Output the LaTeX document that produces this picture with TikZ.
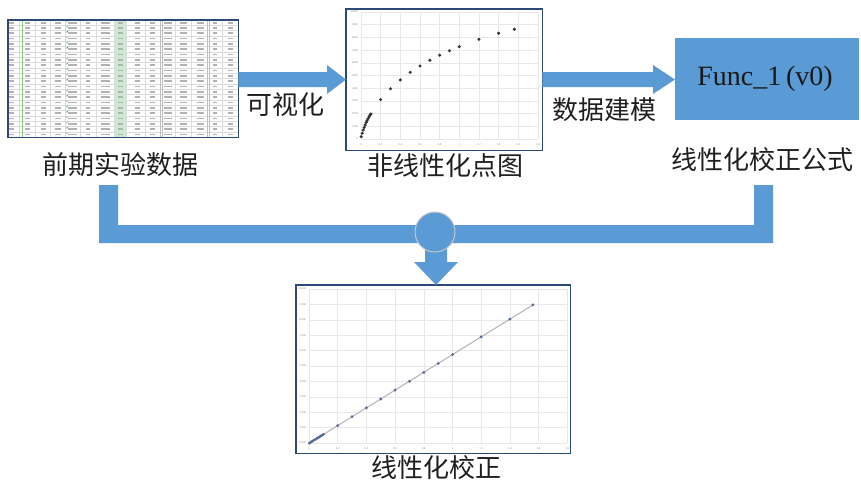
\documentclass[tikz,border=0pt]{standalone}
\usepackage{fontspec}
\setmainfont{Liberation Serif}
\newfontfamily\cjk{Noto Sans CJK SC}
\usetikzlibrary{calc}
\definecolor{fblue}{RGB}{91,155,213}
\definecolor{fborder}{RGB}{44,74,120}
\definecolor{gridc}{RGB}{232,232,232}
\definecolor{xlgreen}{RGB}{198,239,206}
\definecolor{ptblue}{RGB}{85,110,150}
\begin{document}
\begin{tikzpicture}[x=1pt,y=-1pt,
  imgframe/.style={fill=white, inner sep=0pt, anchor=north west},
  imgborder/.style={draw=fborder, line width=1.8pt},
  captxt/.style={font=\cjk\fontsize{26}{28}\selectfont, text=black!88, inner sep=0pt},
  ticktxt/.style={font=\fontsize{2.8}{3}\selectfont, text=gray, inner sep=0pt},
  fat/.style={fill=fblue},
  cell/.style={gray!60, line width=1.7pt}]
\useasboundingbox (0,0) rectangle (861,482);

% ---------- spreadsheet image ----------
\node[imgframe, minimum width=230pt, minimum height=117pt] (tab) at (8,20) {};
\fill[xlgreen] (114,20) rectangle (126,137);
\foreach \r in {1,...,21}
  \draw[gray!28, line width=0.4pt] (8,{20+\r*5.32}) -- (238,{20+\r*5.32});
\foreach \vx in {19,35,50,65,80,96,114,126,145,175,191,222}
  \draw[gray!28, line width=0.4pt] (\vx,20) -- (\vx,137);
\foreach \vx in {160,162,207,209}
  \draw[gray!50, line width=0.6pt] (\vx,20) -- (\vx,137);
\draw[green!60!black!50, line width=0.6pt] (22,20) -- (22,137);
\foreach \cx/\w in {11/5,27/5,43/5,58/6,72/9,88/4,105/9,120/5,137/5,152/5,168/8,183/7,200/7,215/4,230/5}
  \foreach \r in {0,...,21}
    \draw[cell] ({\cx-\w/2},{20+(\r+0.5)*5.32}) -- ++(\w,0);
\foreach \r in {0,...,21}
  \fill[green!60!black!70] (66.5,{20+\r*5.32+0.6}) -- ++(1.8,0) -- ++(-1.8,1.8) -- cycle;
\draw[imgborder] (tab.north west) rectangle (tab.south east);
\node[captxt] (c1) at (120,165) {前期实验数据};

% ---------- scatter plot image ----------
\node[imgframe, minimum width=196pt, minimum height=141pt] (scat) at (346,9) {};
\foreach \i/\l in {0/0,1/0.2,2/0.4,3/0.6,4/0.8,5/1,6/1.2,7/1.4,8/1.6,9/1.8}{
  \draw[gridc, line width=0.5pt] ({361+19.65*\i},12) -- ({361+19.65*\i},139);
  \node[ticktxt] at ({361+19.65*\i},144.5) {\l};
}
\foreach \j in {0,...,10}{
  \draw[gridc, line width=0.5pt] (361,{139-12.7*\j}) -- (538,{139-12.7*\j});
  \pgfmathtruncatemacro{\v}{\j*1000}
  \node[ticktxt, anchor=east] at (358,{139-12.7*\j}) {\v};
}
\foreach \a/\b in {0.002/0.18,0.012/0.45,0.022/0.7,0.032/0.9,0.042/1.1,0.052/1.3,0.062/1.45,0.072/1.6,0.082/1.75,0.092/1.88,0.1/1.97,
                   0.2/3.1,0.3/3.96,0.4/4.65,0.5/5.25,0.6/5.75,0.7/6.2,0.8/6.6,0.9/6.95,1.0/7.27,1.2/7.85,1.4/8.33,1.56/8.64}
  \fill[black!80] ({361+98.3*\a},{139-12.7*\b}) circle (1.7);
\draw[imgborder] (scat.north west) rectangle (scat.south east);
\node[captxt] (c2) at (445,166) {非线性化点图};

% ---------- formula box ----------
\node[fill=fblue, inner sep=0pt, anchor=north west, minimum width=184pt, minimum height=82pt] (func) at (675,38) {};
\node[font=\fontsize{28}{30}\selectfont, text=black!90, inner sep=0pt] (ftxt) at (765,79) {Func\_1\,(v0)};
\node[captxt] (c3) at (762,160) {线性化校正公式};

% ---------- horizontal fat arrows ----------
\fill[fat] (tab.east |- 0,72) -- (327,72) -- (327,65) -- (scat.west |- 0,79.5) -- (327,94) -- (327,87) -- (tab.east |- 0,87) -- cycle;
\node[captxt] (l1) at (285,105) {可视化};
\fill[fat] (scat.east |- 0,72) -- (653,72) -- (653,65) -- (func.west |- 0,79.5) -- (653,94) -- (653,87) -- (scat.east |- 0,87) -- cycle;
\node[captxt] (l2) at (604,110) {数据建模};

% ---------- bracket connector ----------
\fill[fat] (99,185) -- (118,185) -- (118,225) -- (754,225) -- (754,185) -- (773,185) -- (773,243) -- (99,243) -- cycle;
\coordinate (hub) at (435,232);

% ---------- linear plot image ----------
\node[imgframe, minimum width=274pt, minimum height=168pt] (lin) at (296,285) {};
\foreach \i/\l in {0/0,1/0.2,2/0.4,3/0.6,4/0.8,5/1,6/1.2,7/1.4,8/1.6,9/1.8}{
  \draw[gridc, line width=0.5pt] ({309+28.7*\i},289) -- ({309+28.7*\i},443);
  \node[ticktxt] at ({309+28.7*\i},449) {\l};
}
\foreach \j in {0,...,10}{
  \draw[gridc, line width=0.5pt] (309,{443-15.4*\j}) -- (567,{443-15.4*\j});
  \node[ticktxt, anchor=east] at (306,{443-15.4*\j}) {\j.000};
}
\draw[gray!60, line width=1pt] (309,443.3) -- ({309+143.5*1.56},{443.3-88.7*1.56});
\foreach \a in {0.002,0.012,0.022,0.032,0.042,0.052,0.062,0.072,0.082,0.092,0.1,0.2,0.3,0.4,0.5,0.6,0.7,0.8,0.9,1.0,1.2,1.4,1.56}
  \fill[ptblue] ({309+143.5*\a},{443.3-88.7*\a}) circle (1.6);
\draw[imgborder] (lin.north west) rectangle (lin.south east);
\node[captxt] (c4) at (436,468) {线性化校正};

% ---------- down arrow with hub circle ----------
\fill[fat] (425,245) -- (447,245) -- (447,262) -- (458,262) -- (lin.north -| 436,0) -- (414,262) -- (425,262) -- cycle;
\node[circle, fill=fblue, draw=gray!45, line width=1pt, minimum size=40pt, inner sep=0pt] (hubc) at (hub) {};
\end{tikzpicture}
\end{document}
